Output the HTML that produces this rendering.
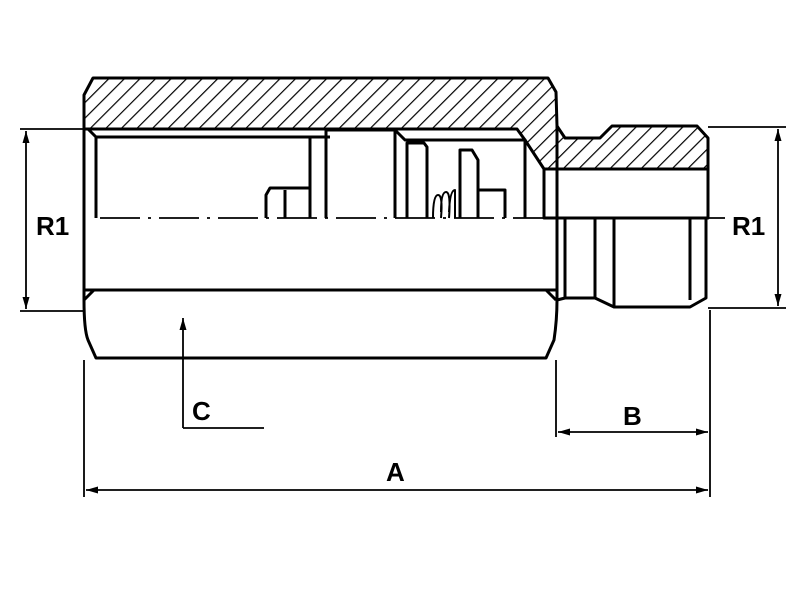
<!DOCTYPE html>
<html><head><style>
html,body{margin:0;padding:0;background:#fff;}
svg{display:block;}
text{font-family:"Liberation Sans",Arial,sans-serif;font-weight:bold;fill:#000;}
</style></head><body>
<svg width="800" height="600" viewBox="0 0 800 600" xmlns="http://www.w3.org/2000/svg">
<defs>
<pattern id="h" patternUnits="userSpaceOnUse" width="11" height="11" patternTransform="rotate(45)">
<line x1="0" y1="0" x2="0" y2="11" stroke="#000" stroke-width="2.4"/>
</pattern>
<marker id="a" viewBox="0 0 12 10" refX="12" refY="5" markerWidth="13" markerHeight="10" orient="auto-start-reverse" markerUnits="userSpaceOnUse">
<path d="M0,1.5 L12,5 L0,8.5 Z" fill="#000"/>
</marker>
</defs>
<g fill="none" stroke="#000" stroke-width="3" stroke-linejoin="round">
<path d="M84,95 L93,78 L548,78 L556,92 L557,126 L565,138 L600,138 L612,126 L697,126 L708,138 L708,169 L544,169 L525,140 L517,129 L84,129 Z" fill="url(#h)"/>
<path d="M84,95 L84,300 Q84,330 88,340 L96,358 L546,358 L554,340 Q557,320 557,300 L557,126"/>
<line x1="84" y1="290" x2="556" y2="290"/>
<line x1="84" y1="300" x2="94" y2="290"/>
<line x1="556" y1="300" x2="546" y2="290"/>
<line x1="96" y1="137" x2="96" y2="218"/>
<line x1="96" y1="137" x2="330" y2="137"/>
<line x1="88" y1="129" x2="96" y2="137"/>
<path d="M266,218 L266,195 L270,188 L310,188"/>
<line x1="285" y1="190" x2="285" y2="218"/>
<line x1="310" y1="137" x2="310" y2="218"/>
<line x1="326" y1="130" x2="326" y2="218"/>
<path d="M326,130 L395,130 L405,140 L525,140 L525,218"/>
<line x1="395" y1="130" x2="395" y2="218"/>
<path d="M407,218 L407,143 L424,143 L427,147 L427,218"/>
<path d="M460,218 L460,150 L472,150 L478,160 L478,218"/>
<path d="M478,190 L505,190 L505,218"/>
<path d="M433,218 Q433,195 438,195 Q443,195 441,218 M441,212 Q441,192 446,192 Q451,192 449,218 M449,212 Q450,190 455,190 L455,218" stroke-width="2"/>
<rect x="544" y="169" width="164" height="49"/>
<path d="M557,218 L557,300 L565,298 L595,298 L614,307 L690,307 L706,298 L706,218"/>
<line x1="565" y1="218" x2="565" y2="298"/>
<line x1="595" y1="218" x2="595" y2="298"/>
<line x1="614" y1="218" x2="614" y2="307"/>
<line x1="690" y1="218" x2="690" y2="300"/>
</g>
<line x1="100" y1="218" x2="725" y2="218" stroke="#000" stroke-width="1.8" stroke-dasharray="40,8,3,8"/>
<g stroke="#000" stroke-width="1.8" fill="none">
<line x1="20" y1="129" x2="84" y2="129"/>
<line x1="20" y1="311" x2="84" y2="311"/>
<line x1="26" y1="131" x2="26" y2="309" marker-start="url(#a)" marker-end="url(#a)"/>
<line x1="708" y1="127" x2="786" y2="127"/>
<line x1="708" y1="308" x2="786" y2="308"/>
<line x1="778" y1="129" x2="778" y2="306" marker-start="url(#a)" marker-end="url(#a)"/>
<line x1="183" y1="428" x2="183" y2="318" marker-end="url(#a)"/>
<line x1="183" y1="428" x2="264" y2="428"/>
<line x1="556" y1="360" x2="556" y2="437"/>
<line x1="710" y1="310" x2="710" y2="497"/>
<line x1="558" y1="432" x2="708" y2="432" marker-start="url(#a)" marker-end="url(#a)"/>
<line x1="84" y1="360" x2="84" y2="497"/>
<line x1="86" y1="490" x2="708" y2="490" marker-start="url(#a)" marker-end="url(#a)"/>
</g>
<text x="36" y="235" font-size="26">R1</text>
<text x="732" y="235" font-size="26">R1</text>
<text x="192" y="420" font-size="26">C</text>
<text x="623" y="425" font-size="26">B</text>
<text x="386" y="481" font-size="26">A</text>
</svg>
</body></html>
